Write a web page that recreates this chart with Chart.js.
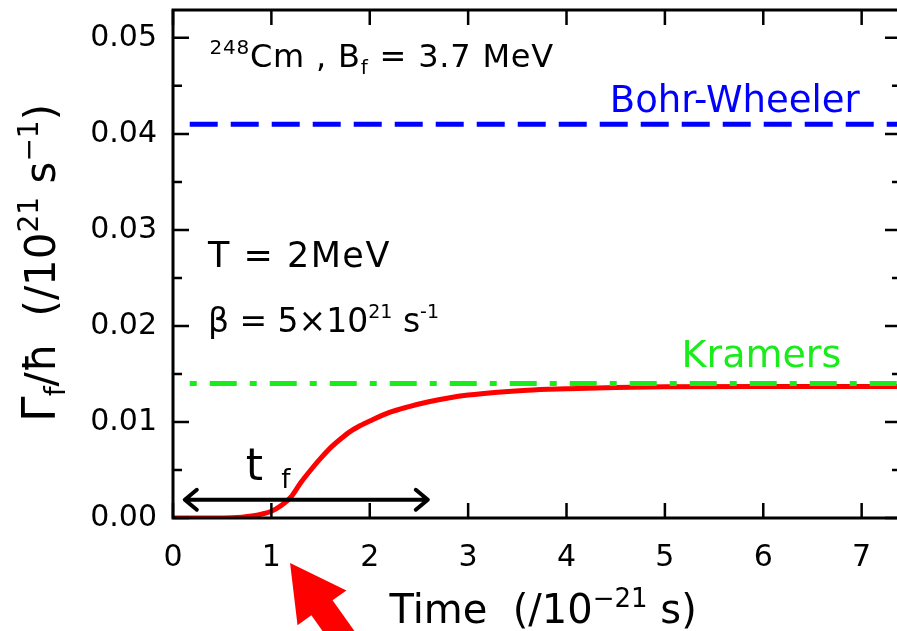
<!DOCTYPE html>
<html>
<head>
<meta charset="utf-8">
<script src="https://cdn.jsdelivr.net/npm/chart.js@4"></script>
<style>
  html, body { margin: 0; padding: 0; background: #fff; overflow: hidden; }
  canvas { display: block; }
</style>
</head>
<body>
<canvas id="rateChart" width="910" height="631"></canvas>
<script>
// Fission width vs. time (248Cm, Bf = 3.7 MeV, T = 2 MeV)
const timeValues = [0, 0.2, 0.4, 0.6, 0.7, 0.8, 0.9, 1.0, 1.1, 1.2, 1.3, 1.4, 1.5, 1.6, 1.7, 1.8, 1.9, 2.0,
                    2.2, 2.4, 2.6, 2.8, 3.0, 3.3, 3.6, 4.0, 4.5, 5.0, 6.0, 7.0, 7.4];
const fissionWidth = [0, 0, 0, 0.00002, 0.00008, 0.0002, 0.0004, 0.0007, 0.0013, 0.0022, 0.0037, 0.0050,
                      0.0062, 0.0073, 0.0082, 0.0090, 0.0096, 0.0101, 0.0110, 0.0116, 0.0121, 0.0125,
                      0.0128, 0.0131, 0.0133, 0.01345, 0.0136, 0.01367, 0.0137, 0.0137, 0.0137];

// limits drawn as horizontal lines
const bohrWheelerWidth = 0.041;
const kramersWidth = 0.014;
const limitStart = 0.17;
const limitEnd = 7.4;

// axis ranges
const timeRange = [0, 7.4];
const widthRange = [0, 0.0529];

// transient time marker (double arrow)
const tfArrow = [0.12, 2.59];
const tfLevel = 0.0019;
const tfPoint = 1.19;

const FONT = '"DejaVu Sans", sans-serif';
const BLUE = '#0000ff';
const GREEN = '#1aeb1a';
const RED = '#ff0000';

// draws a list of text runs one after another (for sub/superscripts)
function drawRuns(ctx, x, y, runs, color, spacing) {
  ctx.fillStyle = color;
  ctx.textAlign = 'left';
  ctx.textBaseline = 'alphabetic';
  ctx.letterSpacing = (spacing || 0) + 'px';
  let cx = x;
  runs.forEach(r => {
    ctx.font = r.size + 'px ' + FONT;
    ctx.fillText(r.t, cx, y + (r.dy || 0));
    cx += ctx.measureText(r.t).width;
  });
  ctx.letterSpacing = '0px';
  return cx;
}

const framePlugin = {
  id: 'frame',
  afterDraw(chart) {
    const { ctx, chartArea: a, scales } = chart;
    const xs = scales.x, ys = scales.y;
    const px = v => xs.getPixelForValue(v);
    const py = v => ys.getPixelForValue(v);

    ctx.save();
    ctx.strokeStyle = '#000';
    ctx.lineWidth = 3;
    ctx.strokeRect(a.left, a.top, a.right - a.left, a.bottom - a.top);

    // inward ticks
    ctx.lineWidth = 2.5;
    ctx.beginPath();
    xs.ticks.forEach(t => {
      const x = px(t.value);
      ctx.moveTo(x, a.bottom); ctx.lineTo(x, a.bottom - 15);
      ctx.moveTo(x, a.top); ctx.lineTo(x, a.top + 15);
    });
    ys.ticks.forEach(t => {
      const y = py(t.value);
      ctx.moveTo(a.left, y); ctx.lineTo(a.left + 16, y);
      ctx.moveTo(a.right, y); ctx.lineTo(a.right - 16, y);
      const m = t.value + 0.005;
      if (m < ys.max) {
        const ym = py(m);
        ctx.moveTo(a.left, ym); ctx.lineTo(a.left + 9, ym);
        ctx.moveTo(a.right, ym); ctx.lineTo(a.right - 9, ym);
      }
    });
    ctx.stroke();

    // t_f double arrow
    const x1 = px(tfArrow[0]), x2 = px(tfArrow[1]), ya = py(tfLevel);
    ctx.lineWidth = 4;
    ctx.lineCap = 'round';
    ctx.lineJoin = 'round';
    ctx.beginPath();
    ctx.moveTo(x1, ya); ctx.lineTo(x2, ya);
    ctx.moveTo(x1 + 12, ya - 10); ctx.lineTo(x1, ya); ctx.lineTo(x1 + 12, ya + 10);
    ctx.moveTo(x2 - 12, ya - 10); ctx.lineTo(x2, ya); ctx.lineTo(x2 - 12, ya + 10);
    ctx.stroke();

    drawRuns(ctx, px(0.74), py(0.004), [{ t: 't', size: 44 }], '#000');
    drawRuns(ctx, px(1.1), py(0.0031), [{ t: 'f', size: 26 }], '#000');

    // text labels inside the frame
    drawRuns(ctx, px(0.37), py(0.04698), [
      { t: '248', size: 20, dy: -13 },
      { t: 'Cm , B', size: 32 },
      { t: 'f', size: 20, dy: 7 },
      { t: ' = 3.7 MeV', size: 32 }
    ], '#000', 0.8);
    drawRuns(ctx, px(0.355), py(0.02615), [{ t: 'T = 2MeV', size: 35 }], '#000', 1.5);
    drawRuns(ctx, px(0.355), py(0.01938), [
      { t: 'β = 5×10', size: 33 },
      { t: '21', size: 19, dy: -14 },
      { t: ' s', size: 33 },
      { t: '-1', size: 19, dy: -14 }
    ], '#000');
    drawRuns(ctx, px(4.44), py(0.04229), [{ t: 'Bohr-Wheeler', size: 37 }], BLUE);
    drawRuns(ctx, px(5.17), py(0.01573), [{ t: 'Kramers', size: 38 }], GREEN);

    // axis titles
    drawRuns(ctx, px(2.2), a.bottom + 105, [
      { t: 'Time  (/10', size: 40 },
      { t: '−21', size: 26, dy: -16 },
      { t: ' s)', size: 40 }
    ], '#000');

    ctx.save();
    ctx.translate(a.left - 118, py(0.01));
    ctx.rotate(-Math.PI / 2);
    drawRuns(ctx, 0, 0, [
      { t: 'Γ', size: 46 },
      { t: 'f', size: 28, dy: 10 },
      { t: '/ħ  (/10', size: 42 },
      { t: '21', size: 28, dy: -17 },
      { t: ' s', size: 42 },
      { t: '−1', size: 28, dy: -17 },
      { t: ')', size: 42 }
    ], '#000');
    ctx.restore();

    // red pointer arrow below the axis, aimed at t_f
    const tipX = px(tfPoint), tipY = a.bottom + 45;
    const dx = 0.58, dy = 0.815;      // direction tip -> tail
    const nx = -dy, ny = dx;
    const head = 55, half = 30, shaft = 13, len = 140;
    const bx = tipX + dx * head, by = tipY + dy * head;
    ctx.fillStyle = RED;
    ctx.beginPath();
    ctx.moveTo(tipX, tipY);
    ctx.lineTo(bx + nx * half, by + ny * half);
    ctx.lineTo(bx + nx * shaft, by + ny * shaft);
    ctx.lineTo(bx + nx * shaft + dx * len, by + ny * shaft + dy * len);
    ctx.lineTo(bx - nx * shaft + dx * len, by - ny * shaft + dy * len);
    ctx.lineTo(bx - nx * shaft, by - ny * shaft);
    ctx.lineTo(bx - nx * half, by - ny * half);
    ctx.closePath();
    ctx.fill();
    ctx.restore();
  }
};

new Chart(document.getElementById('rateChart'), {
  type: 'line',
  data: {
    datasets: [
      {
        label: 'Kramers',
        data: [{ x: limitStart, y: kramersWidth }, { x: limitEnd, y: kramersWidth }],
        borderColor: GREEN,
        borderWidth: 5,
        borderDash: [7, 13, 27, 13],
        pointRadius: 0,
        order: 1
      },
      {
        label: 'Bohr-Wheeler',
        data: [{ x: limitStart, y: bohrWheelerWidth }, { x: limitEnd, y: bohrWheelerWidth }],
        borderColor: BLUE,
        borderWidth: 5,
        borderDash: [28, 13],
        pointRadius: 0,
        order: 1
      },
      {
        label: 'Γf',
        data: timeValues.map((t, i) => ({ x: t, y: fissionWidth[i] })),
        borderColor: RED,
        borderWidth: 5,
        cubicInterpolationMode: 'monotone',
        pointRadius: 0,
        order: 2
      }
    ]
  },
  options: {
    responsive: false,
    animation: false,
    devicePixelRatio: 1,
    layout: { padding: { top: 10, right: 9, left: 0, bottom: 0 } },
    plugins: { legend: { display: false }, tooltip: { enabled: false } },
    scales: {
      x: {
        type: 'linear',
        min: timeRange[0],
        max: timeRange[1],
        grid: { display: false },
        border: { display: false },
        ticks: {
          stepSize: 1,
          includeBounds: false,
          padding: 14,
          color: '#000',
          font: { family: FONT, size: 30 },
          maxRotation: 0
        },
        afterFit(s) {
          s.height = 113;
          s.paddingLeft = 0;
          s.paddingRight = 0;
        }
      },
      y: {
        type: 'linear',
        min: widthRange[0],
        max: widthRange[1],
        grid: { display: false },
        border: { display: false },
        ticks: {
          stepSize: 0.01,
          includeBounds: false,
          padding: 8,
          color: '#000',
          font: { family: FONT, size: 30 },
          callback: v => v.toFixed(2)
        },
        afterFit(s) {
          s.width = 173;
          s.paddingTop = 0;
          s.paddingBottom = 0;
        }
      }
    }
  },
  plugins: [framePlugin]
});
</script>
</body>
</html>
